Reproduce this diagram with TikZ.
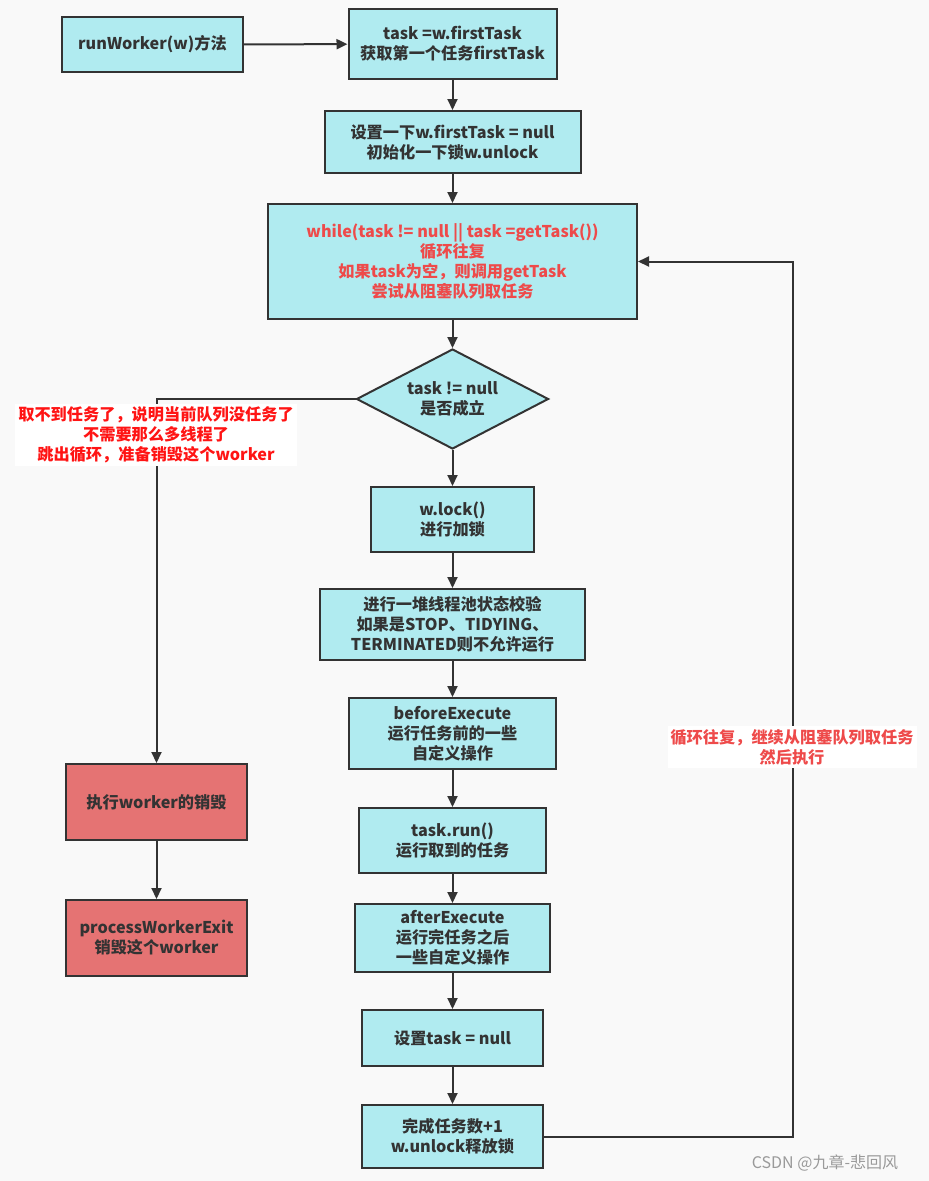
\documentclass[tikz,border=0pt]{standalone}
\usepackage{fontspec}
\setmainfont{Noto Sans CJK SC}
\usetikzlibrary{arrows.meta,shapes.geometric}
\definecolor{bgcol}{HTML}{F9F9F9}
\definecolor{boxcyan}{HTML}{B0EBF0}
\definecolor{boxred}{HTML}{E57373}
\definecolor{edgecol}{HTML}{333333}
\definecolor{txtcol}{HTML}{333333}
\definecolor{looptxt}{HTML}{EE4A4A}
\definecolor{exittxt}{HTML}{FF1414}
\definecolor{marktxt}{HTML}{9A9A9A}

\begin{document}
\begin{tikzpicture}[x=1pt, y=-1pt,
  every node/.style={font=\fontsize{16.2}{20}\selectfont\bfseries, text=txtcol, align=center},
  cyanbox/.style={draw=edgecol, line width=2pt, fill=boxcyan, inner sep=0pt},
  redbox/.style={draw=edgecol, line width=2pt, fill=boxred, inner sep=0pt},
  decide/.style={diamond, aspect=1.92, draw=edgecol, line width=2pt, fill=boxcyan, inner sep=0pt},
  note/.style={fill=white, inner xsep=3pt, inner ysep=3pt},
  arr/.style={draw=edgecol, line width=2pt, -{Triangle[length=11pt,width=10pt]}}]
  \fill[bgcol] (0,0) rectangle (929,1181);
  \useasboundingbox (0,0) rectangle (929,1181);

  % main column
  \node[cyanbox, minimum width=181pt, minimum height=55pt] (run) at (152.5,44.5) {runWorker(w)方法};
  \node[cyanbox, minimum width=208pt, minimum height=70pt] (first) at (452.5,44) {task =w.firstTask\\获取第一个任务firstTask};
  \node[cyanbox, minimum width=256pt, minimum height=62pt] (init) at (452.5,142) {设置一下w.firstTask = null\\初始化一下锁w.unlock};
  \node[cyanbox, minimum width=369pt, minimum height=115pt, text=looptxt] (loop) at (452.5,261.5)
    {while(task != null || task =getTask())\\循环往复\\如果task为空，则调用getTask\\尝试从阻塞队列取任务};
  \node[decide, minimum width=192pt, minimum height=100pt] (cond) at (452.5,399) {task != null\\是否成立};
  \node[cyanbox, minimum width=163pt, minimum height=65pt] (lock) at (452.5,519.5) {w.lock()\\进行加锁};
  \node[cyanbox, minimum width=265pt, minimum height=71pt] (check) at (452.5,624.5)
    {进行一堆线程池状态校验\\如果是STOP、TIDYING、\\TERMINATED则不允许运行};
  \node[cyanbox, minimum width=207pt, minimum height=71pt] (before) at (452.5,733.5) {beforeExecute\\运行任务前的一些\\自定义操作};
  \node[cyanbox, minimum width=187pt, minimum height=65pt] (taskrun) at (452.5,840.5) {task.run()\\运行取到的任务};
  \node[cyanbox, minimum width=195pt, minimum height=68pt] (after) at (452.5,938) {afterExecute\\运行完任务之后\\一些自定义操作};
  \node[cyanbox, minimum width=181pt, minimum height=56pt] (reset) at (452.5,1038) {设置task = null};
  \node[cyanbox, minimum width=181pt, minimum height=63pt] (done) at (452.5,1136.5) {完成任务数+1\\w.unlock释放锁};

  % exit column
  \node[redbox, minimum width=181pt, minimum height=76pt] (kill) at (156.5,802) {执行worker的销毁};
  \node[redbox, minimum width=181pt, minimum height=76pt] (exit) at (156.5,938) {processWorkerExit\\销毁这个worker};

  \coordinate (back) at (793,261.5);

  \draw[arr] (run) -- (first);
  \draw[arr] (first) -- (init);
  \draw[arr] (init) -- (loop);
  \draw[arr] (loop) -- (cond);
  \draw[arr] (cond) -- (lock);
  \draw[arr] (lock) -- (check);
  \draw[arr] (check) -- (before);
  \draw[arr] (before) -- (taskrun);
  \draw[arr] (taskrun) -- (after);
  \draw[arr] (after) -- (reset);
  \draw[arr] (reset) -- (done);
  \draw[arr] (cond.west) -| (kill.north);
  \draw[arr] (kill) -- (exit);
  \draw[arr] (done.east) -| (back) -- (loop.east);

  \node[note, text=exittxt] (exitnote) at (156,435) {取不到任务了，说明当前队列没任务了\\不需要那么多线程了\\跳出循环，准备销毁这个worker};
  \node[note, text=looptxt] (loopnote) at (792,747) {循环往复，继续从阻塞队列取任务\\然后执行};

  \node[font=\fontsize{16}{18}\selectfont, text=marktxt] (mark) at (825,1163) {CSDN @九章-悲回风};
\end{tikzpicture}
\end{document}
